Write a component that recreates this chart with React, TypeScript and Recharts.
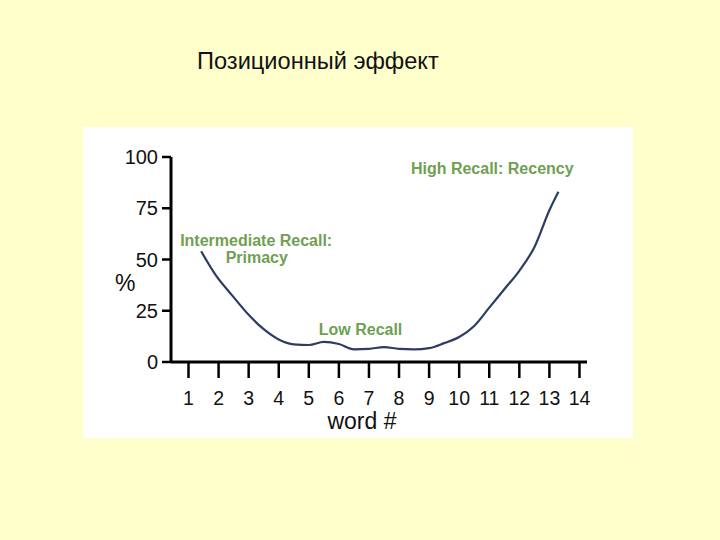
import { LineChart, Line, XAxis, YAxis, ReferenceDot } from 'recharts';

const wordPos = [1.42, 1.9, 2.45, 3, 3.5, 4, 4.5, 5, 5.5, 6, 6.5, 7, 7.5, 8, 8.5, 9, 9.5, 10, 10.5, 11, 11.5, 12, 12.5, 13, 13.3];
const recall = [54, 42.5, 32.5, 23, 16, 11, 8.6, 8.3, 9.8, 8.8, 6.2, 6.4, 7.3, 6.4, 6.2, 6.8, 9.2, 12.2, 17.6, 26.5, 35.5, 44.5, 56, 74, 83];
const xTicks = [1, 2, 3, 4, 5, 6, 7, 8, 9, 10, 11, 12, 13, 14];
const yTicks = [0, 25, 50, 75, 100];

const notes = [
  { x: 11.1, y: 94.6, text: 'High Recall: Recency' },
  { x: 3.25, y: 59.5, text: 'Intermediate Recall:' },
  { x: 3.27, y: 50.9, text: 'Primacy' },
  { x: 6.72, y: 16.1, text: 'Low Recall' },
];

const data = wordPos.map((x, i) => ({ x, recall: recall[i] }));

const font = '"Liberation Sans", Arial, sans-serif';
const green = '#6f9f52';

export default function App() {
  return (
    <div style={{ position: 'fixed', left: 0, top: 0, width: 720, height: 540, background: '#FFFFCC', fontFamily: font }}>
      <div style={{ position: 'absolute', left: 197, top: 48, fontSize: 23.6, color: '#111', whiteSpace: 'nowrap' }}>
        Позиционный эффект
      </div>
      <div style={{ position: 'absolute', left: 83, top: 127, width: 550, height: 311, background: '#fff' }} />
      <div style={{ position: 'absolute', left: 115, top: 270, fontSize: 23, color: '#111' }}>%</div>
      <div style={{ position: 'absolute', left: 0, top: 0 }}>
        <LineChart width={720} height={540} data={data} margin={{ top: 157, right: 133, bottom: 108, left: 111 }}>
          <XAxis
            dataKey="x"
            type="number"
            domain={[0.418, 14.25]}
            ticks={xTicks}
            interval={0}
            axisLine={{ stroke: '#000', strokeWidth: 3 }}
            tickLine={{ stroke: '#000', strokeWidth: 2.5 }}
            tickSize={16}
            tickMargin={13}
            height={70}
            tick={{ fill: '#111', fontSize: 19.5, fontFamily: font }}
            label={{ value: 'word #', position: 'insideBottom', offset: 3, dx: -17, fontSize: 23, fill: '#111', fontFamily: font }}
          />
          <YAxis
            type="number"
            domain={[0, 100]}
            ticks={yTicks}
            width={60}
            axisLine={{ stroke: '#000', strokeWidth: 3 }}
            tickLine={{ stroke: '#000', strokeWidth: 2.5 }}
            tickSize={9}
            tickMargin={4}
            tick={{ fill: '#111', fontSize: 20, fontFamily: font }}
          />
          <Line
            dataKey="recall"
            type="monotone"
            stroke="#2b3d63"
            strokeWidth={2.2}
            dot={false}
            isAnimationActive={false}
          />
          {notes.map((n) => (
            <ReferenceDot
              key={n.text}
              x={n.x}
              y={n.y}
              r={0}
              ifOverflow="visible"
              label={{ value: n.text, position: 'center', fill: green, fontSize: 16, fontWeight: 'bold', fontFamily: font }}
            />
          ))}
        </LineChart>
      </div>
    </div>
  );
}
